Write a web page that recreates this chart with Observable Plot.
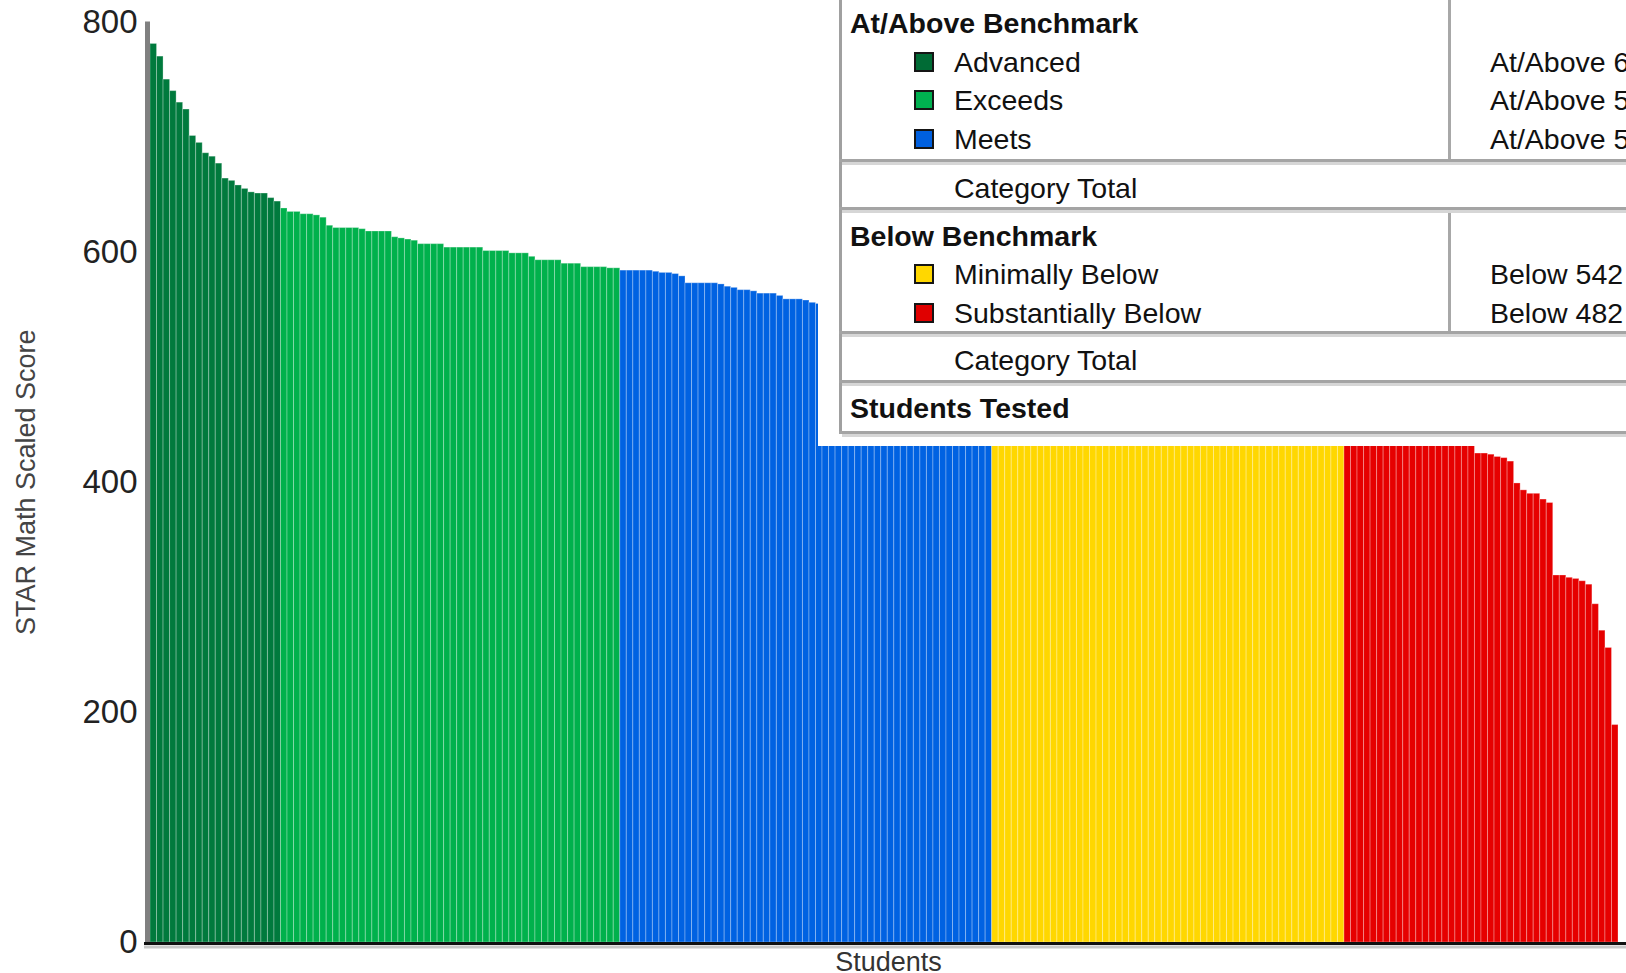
<!DOCTYPE html>
<html>
<head>
<meta charset="utf-8">
<script src="https://cdn.jsdelivr.net/npm/d3@7"></script>
<script src="https://cdn.jsdelivr.net/npm/@observablehq/plot@0.6"></script>
<style>
html, body { margin: 0; padding: 0; background: #fff; overflow: hidden; }
#wrap { position: relative; width: 1626px; height: 973px; overflow: hidden; background: #fff; }
#legend { position: absolute; left: 818px; top: 0; width: 808px; height: 446px; background: #fff;
  font-family: "Liberation Sans", Arial, sans-serif; color: #111; overflow: hidden; }
#legend .t { position: absolute; white-space: nowrap; font-size: 28.5px; line-height: 28.5px; }
#legend .b { font-weight: bold; }
#legend .ln { position: absolute; }
#legend .sw { position: absolute; width: 16px; height: 16px; border: 2px solid #151515; }
</style>
</head>
<body>
<div id="wrap"></div>
<script>
// ---- data ----
const levels = ["Advanced", "Exceeds", "Meets", "Minimally Below", "Substantially Below"];
const levelColors = ["#007a3d", "#00b14c", "#0062e2", "#ffd700", "#e60000"];
const swatchColors = ["#006b35", "#00b050", "#0060df", "#ffd700", "#e00000"];
const groupTitles = ["At/Above Benchmark", "Below Benchmark"];
const levelCriteria = ["At/Above 6", "At/Above 5", "At/Above 5", "Below 542", "Below 482"];
const totalLabel = "Category Total";
const testedLabel = "Students Tested";
const yTicks = [0, 200, 400, 600, 800];
const yLabel = "STAR Math Scaled Score";
const xLabel = "Students";

const advancedScores = [781, 770, 750, 740, 730, 724, 701, 695, 686, 683, 677, 664, 662, 658, 655, 652, 651, 651, 647, 644];
const exceedsScores = [638, 635, 635, 633, 633, 632, 630, 623, 621, 621, 621, 621, 620, 618, 618, 618, 618, 613, 612, 611,
  610, 607, 607, 607, 607, 604, 604, 604, 604, 604, 604, 601, 601, 601, 601, 599, 599, 599, 596, 593,
  593, 593, 593, 590, 590, 590, 587, 587, 587, 587, 586, 586];
const meetsScores = [584, 584, 584, 584, 584, 583, 582, 582, 581, 579, 573, 573, 573, 573, 573, 572, 570, 569, 567, 567,
  566, 564, 564, 564, 562, 559, 559, 559, 558, 556,
  555, 555, 554, 553, 553, 552, 551, 551, 550, 549, 549, 548, 548, 547, 546, 546, 545, 545, 545, 544,
  544, 543, 543, 543, 542, 542, 542];
const minimallyScores = [541, 540, 540, 539, 538, 537, 536, 536, 535, 534, 533, 532, 531, 531, 530, 529, 528, 527, 526, 525,
  524, 523, 522, 521, 520, 519, 518, 517, 516, 515, 514, 512, 511, 510, 509, 508, 507, 505, 504, 503,
  502, 500, 499, 498, 497, 495, 494, 493, 491, 490, 488, 486, 485, 483];
const substantiallyScores = [481, 480, 478, 477, 475, 474, 472, 470, 468, 466, 464, 461, 458, 455, 451, 447, 443, 440, 436, 433,
  425, 425, 424, 422, 421, 418, 399, 393, 390, 390, 385, 382, 319, 319, 317, 316, 314, 311, 294, 271, 256, 189];

// ---- table for the library ----
const seriesByLevel = [advancedScores, exceedsScores, meetsScores, minimallyScores, substantiallyScores];
const rows = [];
seriesByLevel.forEach((arr, li) => {
  arr.forEach(score => {
    const i = rows.length;
    rows.push({i, i2: i + 1, level: levels[li], score});
  });
});
const N = rows.length;

const font = '"Liberation Sans", Arial, sans-serif';
const chart = Plot.plot({
  width: 1626,
  height: 973,
  marginLeft: 144,
  marginRight: 0,
  marginTop: 21.6,
  marginBottom: 31,
  x: {domain: [0, N], insetLeft: 6, insetRight: 8, axis: null},
  y: {domain: [0, 800]},
  color: {domain: levels, range: levelColors},
  style: {fontFamily: font, background: "white", overflow: "visible"},
  marks: [
    Plot.rectY(rows, {x1: "i", x2: "i2", y: "score", fill: "level", stroke: "white", strokeOpacity: 0.28, strokeWidth: 1}),
    Plot.ruleY([0], {stroke: "#c8c8c8", strokeWidth: 3, dy: 4.5}),
    Plot.ruleY([0], {stroke: "#111", strokeWidth: 3, dy: 1}),
    Plot.ruleX([0], {y1: 0, y2: 800, stroke: "#808080", strokeWidth: 5, dx: -3}),
    Plot.axisY({ticks: yTicks, tickSize: 0, tickPadding: 7, fontSize: 33, fill: "#222", label: null, tickFormat: d => String(d)}),
    Plot.text([yLabel], {text: d => d, frameAnchor: "left", textAnchor: "middle", rotate: -90, dx: -118, fontSize: 27, fill: "#444"}),
    Plot.text([xLabel], {text: d => d, frameAnchor: "bottom", textAnchor: "middle", lineAnchor: "top", dy: 9, dx: 3, fontSize: 27, fill: "#333"})
  ]
});
const wrap = document.getElementById("wrap");
wrap.appendChild(chart);

// ---- legend table (overlay, top right) ----
const legend = document.createElement("div");
legend.id = "legend";
wrap.appendChild(legend);

function box(cls, css, text) {
  const d = document.createElement("div");
  d.className = cls;
  Object.assign(d.style, css);
  if (text != null) d.textContent = text;
  legend.appendChild(d);
  return d;
}
const fs = 28.5;
function textAt(str, left, center, bold) {
  box("t" + (bold ? " b" : ""), {left: left + "px", top: (center - fs * 0.49) + "px"}, str);
}
// borders
box("ln", {left: "21px", top: "0px", width: "3px", height: "434px", background: "#a0a0a0"});
box("ln", {left: "630px", top: "0px", width: "3px", height: "160px", background: "#a8a8a8"});
box("ln", {left: "630px", top: "210px", width: "3px", height: "122px", background: "#a8a8a8"});
[159, 207, 331, 380, 431].forEach(t => {
  box("ln", {left: "21px", top: t + "px", width: "800px", height: "3px", background: "#a4a4a4"});
  box("ln", {left: "24px", top: (t + 3) + "px", width: "800px", height: "3px", background: "#d6d6d6"});
});
// rows
textAt(groupTitles[0], 32, 22.5, true);
const itemCenters = [61.7, 100, 139, 274, 312.5];
levels.forEach((lv, k) => {
  const c = itemCenters[k];
  box("sw", {left: "96px", top: (c - 10) + "px", background: swatchColors[k]});
  textAt(lv, 136, c, false);
  textAt(levelCriteria[k], 672, c, false);
});
textAt(totalLabel, 136, 187.5, false);
textAt(groupTitles[1], 32, 235.5, true);
textAt(totalLabel, 136, 360.3, false);
textAt(testedLabel, 32, 408, true);
</script>
</body>
</html>
